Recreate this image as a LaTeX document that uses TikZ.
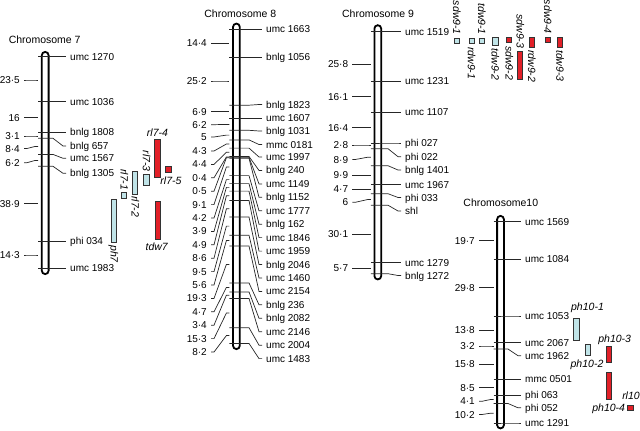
\documentclass[tikz,border=0pt]{standalone}
\usepackage{fontspec}
\setmainfont{Liberation Sans}
\definecolor{qblue}{RGB}{192,228,232}
\definecolor{qred}{RGB}{226,32,40}
\tikzset{
  ln/.style={line width=0.7pt, draw=black!85},
  mk/.style={font=\fontsize{10}{12}\selectfont, inner sep=0pt, anchor=west, text height=7pt, text depth=0pt},
  dl/.style={font=\fontsize{10}{12}\selectfont, inner sep=0pt, anchor=east, text height=7pt, text depth=0pt},
  ttl/.style={font=\fontsize{10.5}{12}\selectfont, inner sep=0pt},
  ql/.style={font=\itshape\fontsize{10.5}{12}\selectfont, inner sep=0pt, text height=7pt, text depth=0pt},
  chrom/.style={line width=1.8pt, draw=black, fill=white, rounded corners=3.4pt},
  qb/.style={draw=black!80, line width=0.6pt, fill=qblue},
  qr/.style={draw=black!80, line width=0.6pt, fill=qred}
}
% right marker: name, cx, tick y, label y, label x, text
\newcommand{\RMk}[6]{%
  \node[mk] (#1) at (#5,#4) {#6};
  \draw[ln] ({#2-7},#3) -- ({#5-17},#3) -- ({#5-7},#4) -- ([xshift=-4pt]#1.west);}
% left distance: name, cx, mid y, label y, right edge x, text
\newcommand{\LDs}[6]{%
  \node[dl] (#1) at (#5,#4) {#6};
  \draw[ln] ([xshift=4pt]#1.east) -- ++(3,0) -- ({#2-10},#3) -- ({#2-7},#3);}
% chromosome bar: cx, top, bottom
\newcommand{\ChromBar}[3]{\draw[chrom] ({#1-3.4},{#2+0.9}) rectangle ({#1+3.4},{#3-0.9});}
\begin{document}
\begin{tikzpicture}[x=1pt,y=-1pt]
\useasboundingbox (0,0) rectangle (640,431);

% ---------------- Chromosome 7 ----------------
\node[ttl] (t7) at (44.7,39.5) {Chromosome 7};
\ChromBar{45.2}{51}{275}
\RMk{r7a}{45.2}{56.7}{56.7}{70}{umc 1270}
\RMk{r7b}{45.2}{101.7}{101.7}{70}{umc 1036}
\RMk{r7c}{45.2}{132.2}{132.2}{70}{bnlg 1808}
\RMk{r7d}{45.2}{138.3}{146}{70}{bnlg 657}
\RMk{r7e}{45.2}{154.4}{158.3}{70}{umc 1567}
\RMk{r7f}{45.2}{166.3}{173.3}{70}{bnlg 1305}
\RMk{r7g}{45.2}{240.9}{240.9}{70}{phi 034}
\RMk{r7h}{45.2}{268.3}{268.3}{70}{umc 1983}
\LDs{l7a}{45.2}{80}{80}{20}{23·5}
\LDs{l7b}{45.2}{117.7}{117.7}{20}{16}
\LDs{l7c}{45.2}{136}{136}{20}{3·1}
\LDs{l7d}{45.2}{146.4}{148.5}{20}{8·4}
\LDs{l7e}{45.2}{160.4}{162.7}{20}{6·2}
\LDs{l7f}{45.2}{203.5}{203.5}{20}{38·9}
\LDs{l7g}{45.2}{255}{255}{20}{14·3}
% QTL chr7
\draw[qb] (111.7,199) rectangle (116.7,242.7);
\draw[qb] (121.7,192.7) rectangle (126.7,198.3);
\draw[qb] (132.3,171.7) rectangle (137.7,194);
\draw[qb] (143.3,174.3) rectangle (149.3,185.7);
\draw[qr] (154.3,139.3) rectangle (160,177.3);
\draw[qr] (165,166.7) rectangle (171,172.3);
\draw[qr] (155,201.7) rectangle (160.7,239.3);
\node[ql,rotate=-90,anchor=west] (q7a) at (114.2,245) {ph7};
\node[ql,rotate=-90,anchor=east] (q7b) at (124.2,190.5) {rl7-1};
\node[ql,rotate=-90,anchor=west] (q7c) at (135,196) {rl7-2};
\node[ql,rotate=-90,anchor=east] (q7d) at (146.3,172) {rl7-3};
\node[ql] (q7e) at (157.5,132.7) {rl7-4};
\node[ql] (q7f) at (171,181) {rl7-5};
\node[ql] (q7g) at (156.7,246.7) {tdw7};

% ---------------- Chromosome 8 ----------------
\node[ttl] (t8) at (240.3,13.3) {Chromosome 8};
\ChromBar{236.4}{22.7}{350}
\RMk{r8a}{236.4}{29.3}{29.3}{266}{umc 1663}
\RMk{r8b}{236.4}{56.9}{56.9}{266}{bnlg 1056}
\RMk{r8c}{236.4}{105.2}{104.5}{266}{bnlg 1823}
\RMk{r8d}{236.4}{118.4}{118.4}{266}{umc 1607}
\RMk{r8e}{236.4}{130.3}{131}{266}{bnlg 1031}
\RMk{r8f}{236.4}{139.9}{144.5}{266}{mmc 0181}
\RMk{r8g}{236.4}{148.1}{157}{266}{umc 1997}
\RMk{r8h}{236.4}{156.5}{170.4}{266}{bnlg 240}
\RMk{r8i}{236.4}{157.3}{183.9}{266}{umc 1149}
\RMk{r8j}{236.4}{158.2}{197.3}{266}{bnlg 1152}
\RMk{r8k}{236.4}{175.6}{210.8}{266}{umc 1777}
\RMk{r8l}{236.4}{183.6}{224.2}{266}{bnlg 162}
\RMk{r8m}{236.4}{191.1}{237.6}{266}{umc 1846}
\RMk{r8n}{236.4}{200.5}{251.1}{266}{umc 1959}
\RMk{r8o}{236.4}{217.0}{264.5}{266}{bnlg 2046}
\RMk{r8p}{236.4}{235.2}{278}{266}{umc 1460}
\RMk{r8q}{236.4}{245.9}{291.4}{266}{umc 2154}
\RMk{r8r}{236.4}{282.9}{304.8}{266}{bnlg 236}
\RMk{r8s}{236.4}{291.9}{318.3}{266}{bnlg 2082}
\RMk{r8t}{236.4}{298.4}{331.7}{266}{umc 2146}
\RMk{r8u}{236.4}{327.7}{345.2}{266}{umc 2004}
\RMk{r8v}{236.4}{343.4}{358.6}{266}{umc 1483}
\LDs{l8a}{236.4}{43.1}{43.1}{207}{14·4}
\LDs{l8b}{236.4}{81}{81}{207}{25·2}
\LDs{l8c}{236.4}{111.8}{111.8}{207}{6·9}
\LDs{l8d}{236.4}{124.4}{124.7}{207}{6·2}
\LDs{l8e}{236.4}{135.1}{137}{207}{5}
\LDs{l8f}{236.4}{144.0}{151}{207}{4·3}
\LDs{l8g}{236.4}{152.3}{164.4}{207}{4·4}
\LDs{l8h}{236.4}{156.9}{177.8}{207}{0·4}
\LDs{l8i}{236.4}{157.75}{191.2}{207}{0·5}
\LDs{l8j}{236.4}{166.9}{204.6}{207}{9·1}
\LDs{l8k}{236.4}{179.6}{218}{207}{4·2}
\LDs{l8l}{236.4}{187.35}{231.4}{207}{3·9}
\LDs{l8m}{236.4}{195.8}{244.8}{207}{4·9}
\LDs{l8n}{236.4}{208.75}{258.2}{207}{8·6}
\LDs{l8o}{236.4}{226.1}{271.6}{207}{9·5}
\LDs{l8p}{236.4}{240.55}{285}{207}{5·6}
\LDs{l8q}{236.4}{264.4}{298.4}{207}{19·3}
\LDs{l8r}{236.4}{287.4}{311.8}{207}{4·7}
\LDs{l8s}{236.4}{295.15}{325.2}{207}{3·4}
\LDs{l8t}{236.4}{313.05}{338.6}{207}{15·3}
\LDs{l8u}{236.4}{335.55}{352}{207}{8·2}

% ---------------- Chromosome 9 ----------------
\node[ttl] (t9) at (378,14) {Chromosome 9};
\ChromBar{377.8}{24.3}{280.3}
\RMk{r9a}{377.8}{31.7}{31.7}{405}{umc 1519}
\RMk{r9b}{377.8}{81.1}{81.1}{405}{umc 1231}
\RMk{r9c}{377.8}{111.9}{111.9}{405}{umc 1107}
\RMk{r9d}{377.8}{143}{143}{405}{phi 027}
\RMk{r9e}{377.8}{148.7}{156.7}{405}{phi 022}
\RMk{r9f}{377.8}{165.7}{170}{405}{bnlg 1401}
\RMk{r9g}{377.8}{184.5}{184.5}{405}{umc 1967}
\RMk{r9h}{377.8}{193.7}{197.5}{405}{phi 033}
\RMk{r9i}{377.8}{205.2}{211}{405}{shl}
\RMk{r9j}{377.8}{262.8}{262.8}{405}{umc 1279}
\RMk{r9k}{377.8}{273.7}{275.5}{405}{bnlg 1272}
\LDs{l9a}{377.8}{64.3}{64.3}{348.3}{25·8}
\LDs{l9b}{377.8}{96.7}{96.7}{348.3}{16·1}
\LDs{l9c}{377.8}{127.7}{127.7}{348.3}{16·4}
\LDs{l9d}{377.8}{145}{145}{348.3}{2·8}
\LDs{l9e}{377.8}{157.2}{159.5}{348.3}{8·9}
\LDs{l9f}{377.8}{175.2}{175.2}{348.3}{9·9}
\LDs{l9g}{377.8}{189.2}{189.2}{348.3}{4·7}
\LDs{l9h}{377.8}{199.5}{202.3}{348.3}{6}
\LDs{l9i}{377.8}{234.2}{234.2}{348.3}{30·1}
\LDs{l9j}{377.8}{268.3}{268.3}{348.3}{5·7}
% QTL chr9
\draw[qb] (454.2,38.5) rectangle (459,43.5);
\draw[qb] (469,38.5) rectangle (473.8,43.5);
\draw[qb] (479.3,38.5) rectangle (484.1,43.5);
\draw[qb] (492.3,37.5) rectangle (498,45.7);
\draw[qr] (506.7,37.3) rectangle (511.7,42.7);
\draw[qr] (517.3,51.7) rectangle (522.7,79.3);
\draw[qr] (529,37.3) rectangle (534,47.3);
\draw[qr] (545,37.3) rectangle (550,42.3);
\draw[qr] (557.3,37.3) rectangle (562.3,47.3);
\node[ql,rotate=-90,anchor=east] (q9a) at (456.6,35) {sdw9-1};
\node[ql,rotate=-90,anchor=east] (q9b) at (481.7,35) {tdw9-1};
\node[ql,rotate=-90,anchor=west] (q9c) at (471.4,47) {rdw9-1};
\node[ql,rotate=-90,anchor=west] (q9d) at (495.2,48.5) {tdw9-2};
\node[ql,rotate=-90,anchor=west] (q9e) at (509.2,46) {sdw9-2};
\node[ql,rotate=-90,anchor=east] (q9f) at (520,48.5) {sdw9-3};
\node[ql,rotate=-90,anchor=west] (q9g) at (531.5,50) {rdw9-2};
\node[ql,rotate=-90,anchor=east] (q9h) at (547.5,34) {sdw9-4};
\node[ql,rotate=-90,anchor=west] (q9i) at (559.8,50) {tdw9-3};

% ---------------- Chromosome 10 ----------------
\node[ttl] (t10) at (500.8,202.7) {Chromosome10};
\ChromBar{500.5}{215}{429.3}
\RMk{r10a}{500.5}{221.7}{221.7}{525}{umc 1569}
\RMk{r10b}{500.5}{259.4}{259.4}{525}{umc 1084}
\RMk{r10c}{500.5}{316}{316}{525}{umc 1053}
\RMk{r10d}{500.5}{342.6}{342.6}{525}{umc 2067}
\RMk{r10e}{500.5}{349}{355.7}{525}{umc 1962}
\RMk{r10f}{500.5}{379.3}{379.3}{525}{mmc 0501}
\RMk{r10g}{500.5}{395.3}{395.3}{525}{phi 063}
\RMk{r10h}{500.5}{403.5}{407.8}{525}{phi 052}
\RMk{r10i}{500.5}{423}{423}{525}{umc 1291}
\LDs{l10a}{500.5}{240.6}{240.6}{475}{19·7}
\LDs{l10b}{500.5}{287.7}{287.7}{475}{29·8}
\LDs{l10c}{500.5}{330.3}{330.3}{475}{13·8}
\LDs{l10d}{500.5}{346}{346}{475}{3·2}
\LDs{l10e}{500.5}{364.2}{364.2}{475}{15·8}
\LDs{l10f}{500.5}{387.5}{387.5}{475}{8·5}
\LDs{l10g}{500.5}{399.5}{401.3}{475}{4·1}
\LDs{l10h}{500.5}{413.2}{414.5}{475}{10·2}
% QTL chr10
\draw[qb] (573.3,318.3) rectangle (579,340);
\draw[qb] (585,344.3) rectangle (590.7,355);
\draw[qr] (606,346.7) rectangle (611.7,362.7);
\draw[qr] (606,372.7) rectangle (611.7,399.3);
\draw[qr] (627.7,405.7) rectangle (633.3,410);
\node[ql] (q10a) at (587.5,307.3) {ph10-1};
\node[ql] (q10b) at (587,364) {ph10-2};
\node[ql] (q10c) at (614.7,339.3) {ph10-3};
\node[ql] (q10d) at (608.7,408.3) {ph10-4};
\node[ql] (q10e) at (631,396) {rl10};
\end{tikzpicture}
\end{document}
